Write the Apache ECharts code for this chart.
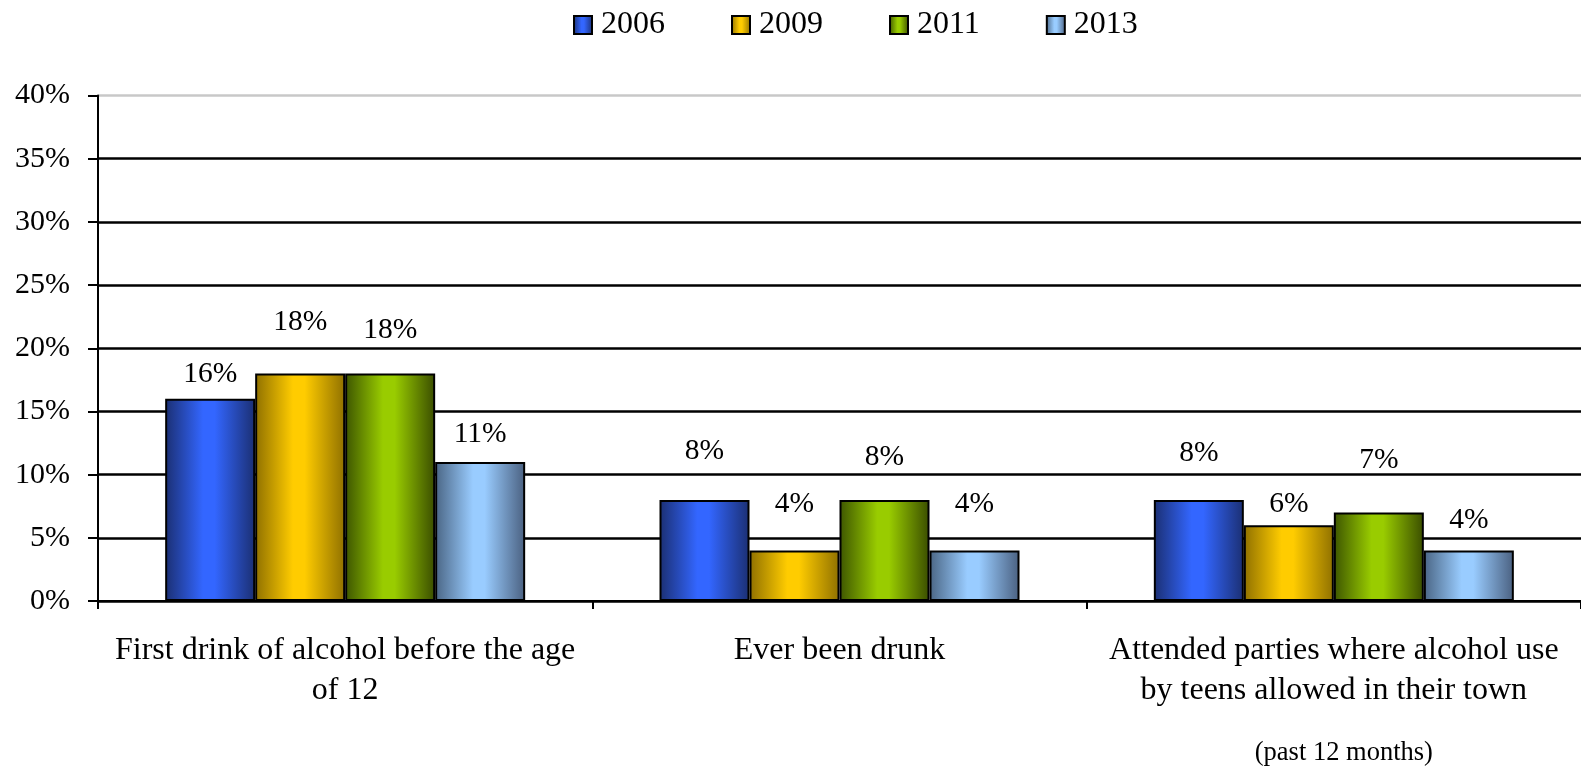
<!DOCTYPE html>
<html>
<head>
<meta charset="utf-8">
<script src="https://cdn.jsdelivr.net/npm/echarts@6/dist/echarts.min.js"></script>
<style>html,body{margin:0;padding:0;background:#fff}#c{width:1581px;height:768px}</style>
</head>
<body>
<div id="c"></div>
<script>
const categories = [
  'First drink of alcohol before the age\nof 12',
  'Ever been drunk',
  'Attended parties where alcohol use\nby teens allowed in their town'
];
const categoryNote = '(past 12 months)';
const years = ['2006', '2009', '2011', '2013'];
const values2006 = [16, 8, 8];
const values2009 = [18, 4, 6];
const values2011 = [18, 8, 7];
const values2013 = [11, 4, 4];
const yTickLabels = ['0%', '5%', '10%', '15%', '20%', '25%', '30%', '35%', '40%'];

// styling (not data)
const labelLift = [[11, 35, 33], [37, 32, 7], [29, 29, 38], [14, 32, 16]];
const palettes = [
  ['#1b2f72', '#3366ff', '#3366ff', '#1b2f72'],
  ['#8f7000', '#ffcc00', '#ffcc00', '#8f7000'],
  ['#3d5500', '#99cc00', '#99cc00', '#3a4d00'],
  ['#4a6584', '#99ccff', '#99ccff', '#4a6080']
];
const FONT = '"Liberation Serif", "DejaVu Serif", serif';

function grad(p) {
  return new echarts.graphic.LinearGradient(0, 0, 1, 0, [
    { offset: 0, color: p[0] },
    { offset: 0.42, color: p[1] },
    { offset: 0.55, color: p[2] },
    { offset: 1, color: p[3] }
  ]);
}

const seriesValues = [values2006, values2009, values2011, values2013];
const series = years.map((y, si) => ({
  name: y,
  type: 'bar',
  barWidth: 90,
  barGap: '0%',
  data: seriesValues[si].map((v, ci) => ({
    value: v,
    label: { distance: labelLift[si][ci] }
  })),
  itemStyle: { color: grad(palettes[si]), borderColor: '#000', borderWidth: 2 },
  label: {
    show: true,
    position: 'top',
    formatter: p => p.value + '%',
    fontFamily: FONT,
    fontSize: 29.5,
    lineHeight: 28,
    color: '#000'
  }
}));

const chart = echarts.init(document.getElementById('c'), null, { renderer: 'canvas' });
chart.setOption({
  animation: false,
  backgroundColor: '#fff',
  legend: {
    top: 4,
    left: 568,
    itemWidth: 18,
    itemHeight: 18,
    itemGap: 66,
    icon: 'rect',
    textStyle: { fontFamily: FONT, fontSize: 32, color: '#000', padding: [0, 0, 0, 4] },
    itemStyle: { borderColor: '#000', borderWidth: 2 },
    data: years
  },
  grid: { left: 98, right: -7, top: 95.5, bottom: 167, containLabel: false },
  xAxis: {
    type: 'category',
    data: categories,
    axisLine: { lineStyle: { color: '#000', width: 2 } },
    axisTick: { show: true, length: 8, lineStyle: { color: '#000', width: 2 } },
    axisLabel: {
      interval: 0,
      margin: 30,
      fontFamily: FONT,
      fontSize: 32,
      lineHeight: 40,
      color: '#000',
      formatter: (v, i) => i === 2 ? v + '\n{s|' + categoryNote + '}' : v,
      rich: {
        s: { fontFamily: FONT, fontSize: 26.5, lineHeight: 26, color: '#000', padding: [58, 0, 0, 20] }
      }
    }
  },
  yAxis: {
    type: 'value',
    min: 0,
    max: 40,
    interval: 5,
    axisLine: { show: true, lineStyle: { color: '#000', width: 2 } },
    axisTick: { show: true, length: 10, lineStyle: { color: '#000', width: 2 } },
    axisLabel: {
      margin: 28,
      fontFamily: FONT,
      fontSize: 30,
      color: '#000',
      formatter: (v) => yTickLabels[Math.round(v / 5)]
    },
    splitLine: {
      show: true,
      lineStyle: {
        width: 2.5,
        color: ['#000', '#000', '#000', '#000', '#000', '#000', '#000', '#000', '#c8c8c8']
      }
    }
  },
  series: series
});
</script>
</body>
</html>
